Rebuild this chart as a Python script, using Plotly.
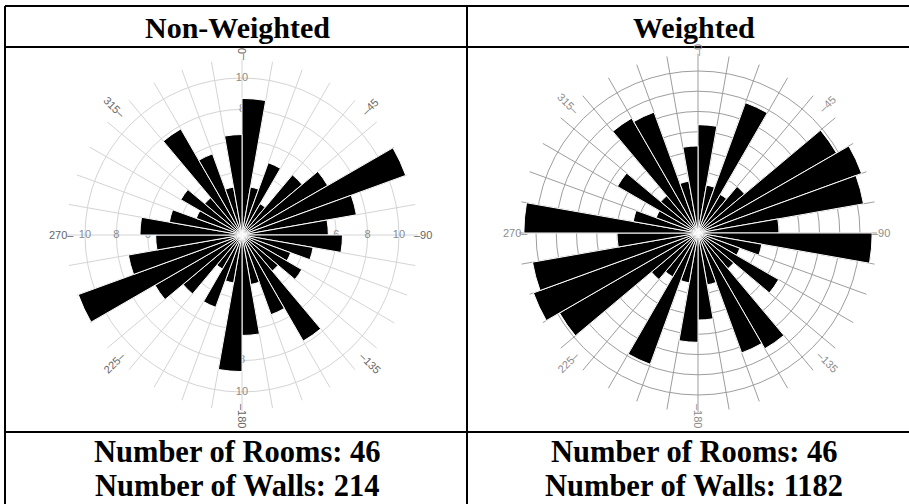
import math
import plotly.graph_objects as go

W, H = 909, 504

# 10-degree orientation sectors (bearing of each sector's start)
bin_start = list(range(0, 360, 10))

# wall counts per sector
non_weighted = [8.7, 3.1, 4.9, 2.3, 5.0, 6.3, 11.1, 7.4, 5.5,
                6.4, 4.6, 3.3, 4.4, 3.0, 7.8, 5.4, 3.2, 6.4,
                8.7, 3.1, 4.9, 2.5, 4.9, 6.4, 11.1, 7.35, 5.5,
                6.5, 4.7, 3.1, 4.5, 3.1, 7.8, 5.5, 3.1, 6.4]

# length-weighted totals per sector
weighted = [5.35, 2.4, 6.85, 2.2, 3.0, 7.9, 8.6, 8.3, 4.0,
            8.6, 3.2, 2.2, 4.6, 2.3, 6.6, 6.3, 2.6, 4.3,
            5.4, 2.5, 6.9, 2.5, 3.0, 7.9, 8.65, 8.3, 4.0,
            8.6, 3.25, 2.2, 4.6, 2.4, 6.55, 6.35, 2.6, 4.3]

headers = ["Non-Weighted", "Weighted"]
rooms = [46, 46]
walls = [214, 1182]

compass = [0, 45, 90, 135, 180, 225, 270, 315]
ring_label_vals = [6, 8, 10]

# rose geometry in pixels: centre, pixels per unit, outer radius (units)
roses = [
    dict(cx=242, cy=235, unit=15.7, rmax=11.2, rings=[2, 4, 6, 8, 10],
         grid="#d4d4d4", label_r=181, label_color="#666666", values=non_weighted),
    dict(cx=698, cy=233, unit=20.25, rmax=8.85, rings=[1, 2, 3, 4, 5, 6, 7, 8],
         grid="#9d9d9d", label_r=183, label_color="#8c8c8c", values=weighted),
]

col_centers = [237, 694]
borders_h = [6, 47, 432]
borders_v = [5, 467]

fig = go.Figure()
annotations = []
shapes = []

theta = [b + 5 for b in bin_start]


def polar_layout(rose, with_grid):
    R = rose["rmax"] * rose["unit"]
    cx, cy = rose["cx"], rose["cy"]
    dom = dict(x=[(cx - R) / W, (cx + R) / W],
               y=[(H - cy - R) / H, (H - cy + R) / H])
    return dict(
        domain=dom,
        bgcolor="white" if with_grid else "rgba(0,0,0,0)",
        angularaxis=dict(rotation=90, direction="clockwise", tickmode="linear",
                         tick0=0, dtick=10, showticklabels=False, ticks="",
                         showline=False, showgrid=with_grid,
                         gridcolor=rose["grid"], gridwidth=1),
        radialaxis=dict(range=[0, rose["rmax"]], tickvals=rose["rings"],
                        showticklabels=False, ticks="", showline=False,
                        showgrid=with_grid, gridcolor=rose["grid"], gridwidth=1),
    )


# left rose: grid and ring values underneath, bars in an overlaid polar on top
left, right = roses
lab_r, lab_t, lab_s = [], [], []
for ang in (270, 90):
    for v in ring_label_vals:
        lab_r.append(v); lab_t.append(ang); lab_s.append(str(v))
for ang in (0, 180):
    for v in (8, 10):
        lab_r.append(v); lab_t.append(ang); lab_s.append(str(v))
fig.add_trace(go.Scatterpolar(
    r=lab_r, theta=lab_t, text=lab_s, mode="text",
    textfont=dict(family="Liberation Sans", size=11, color="#8a8a8a"),
    subplot="polar", showlegend=False, hoverinfo="skip"))
fig.add_trace(go.Barpolar(
    r=left["values"], theta=theta, width=[10] * len(theta),
    marker=dict(color="black", line=dict(color="white", width=1)),
    subplot="polar2", showlegend=False))
fig.add_trace(go.Barpolar(
    r=right["values"], theta=theta, width=[10] * len(theta),
    marker=dict(color="black", line=dict(color="white", width=1)),
    subplot="polar3", showlegend=False))

fig.update_layout(polar=polar_layout(left, True),
                  polar2=polar_layout(left, False),
                  polar3=polar_layout(right, True))

# compass bearings around each rose, tick dash on the centre side
for rose in roses:
    cx, cy = rose["cx"], rose["cy"]
    for b in compass:
        rad = math.radians(b)
        px = cx + rose["label_r"] * math.sin(rad)
        py = cy - rose["label_r"] * math.cos(rad)
        if 0 <= b <= 180:
            txt = "\u2013" + str(b)
            angle = b - 90
        else:
            txt = str(b) + "\u2013"
            angle = b - 270
        annotations.append(dict(
            x=px / W, y=1 - py / H, xref="paper", yref="paper",
            text=txt, showarrow=False, textangle=angle,
            xanchor="center", yanchor="middle",
            font=dict(family="Liberation Sans", size=11, color=rose["label_color"])))

# table text
for i in range(2):
    annotations.append(dict(
        x=col_centers[i] / W, y=1 - 27 / H, xref="paper", yref="paper",
        text="<b>%s</b>" % headers[i], showarrow=False,
        xanchor="center", yanchor="middle",
        font=dict(family="Liberation Serif", size=30, color="black")))
    annotations.append(dict(
        x=col_centers[i] / W, y=1 - 452 / H, xref="paper", yref="paper",
        text="<b>Number of Rooms: %d</b>" % rooms[i], showarrow=False,
        xanchor="center", yanchor="middle",
        font=dict(family="Liberation Serif", size=30.5, color="black")))
    annotations.append(dict(
        x=col_centers[i] / W, y=1 - 486 / H, xref="paper", yref="paper",
        text="<b>Number of Walls: %d</b>" % walls[i], showarrow=False,
        xanchor="center", yanchor="middle",
        font=dict(family="Liberation Serif", size=30.5, color="black")))

# table rules
for yb in borders_h:
    shapes.append(dict(type="line", xref="paper", yref="paper",
                       x0=borders_v[0] / W, x1=1, y0=1 - yb / H, y1=1 - yb / H,
                       line=dict(color="black", width=2)))
for xb in borders_v:
    shapes.append(dict(type="line", xref="paper", yref="paper",
                       x0=xb / W, x1=xb / W, y0=1 - borders_h[0] / H, y1=0,
                       line=dict(color="black", width=2)))

fig.update_layout(
    width=W, height=H, margin=dict(l=0, r=0, t=0, b=0),
    paper_bgcolor="white", plot_bgcolor="white",
    annotations=annotations, shapes=shapes, showlegend=False)

fig.write_html("out.html")
